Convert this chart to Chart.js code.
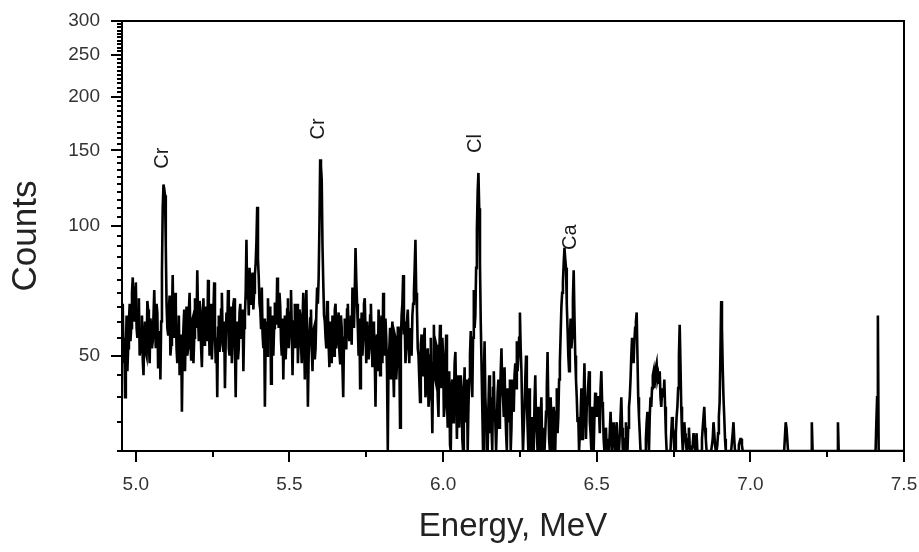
<!DOCTYPE html>
<html>
<head>
<meta charset="utf-8">
<script src="https://cdn.jsdelivr.net/npm/chart.js@4/dist/chart.umd.min.js"></script>
<style>
  html, body { margin: 0; padding: 0; background: #fff; }
  #wrap { width: 919px; height: 552px; position: relative; }
</style>
</head>
<body>
<div id="wrap"><canvas id="spectrum"></canvas></div>
<script>
// channel grid of the spectrum (MeV)
const energyStart = 4.955;
const energyStep = 0.0025;

// counts per channel, one row = 0.1 MeV (40 channels)
const counts = [
  58, 66, 48, 55, 40, 52, 62, 46, 52, 60, 66, 54, 58, 70, 76, 63, 60, 72, 74, 58, 55, 64, 68, 50, 52, 58, 62, 49, 45, 56, 60, 51, 50, 67, 64, 53, 48, 61, 58, 52,
  54, 62, 71, 58, 52, 66, 63, 47, 50, 57, 44, 60, 78, 110, 125, 122, 118, 90, 66, 58, 56, 64, 69, 50, 53, 62, 77, 57, 55, 70, 66, 52, 48, 59, 62, 45, 50, 56, 37, 52,
  58, 64, 46, 57, 65, 50, 52, 63, 70, 56, 49, 60, 61, 48, 55, 68, 66, 58, 79, 62, 54, 67, 64, 52, 47, 59, 68, 53, 56, 65, 60, 54, 75, 61, 50, 58, 66, 49, 55, 63,
  74, 57, 48, 55, 40, 58, 62, 51, 53, 64, 70, 56, 51, 60, 42, 54, 63, 57, 71, 52, 50, 62, 65, 48, 55, 66, 68, 53, 40, 56, 60, 49, 52, 63, 66, 55, 57, 64, 46, 58,
  62, 70, 93, 68, 74, 62, 80, 72, 66, 75, 78, 64, 70, 77, 82, 92, 111, 84, 76, 66, 64, 58, 72, 56, 52, 61, 38, 54, 60, 50, 68, 59, 55, 65, 43, 57, 62, 50, 58, 66,
  66, 59, 76, 64, 58, 70, 65, 54, 50, 61, 44, 56, 62, 49, 54, 64, 68, 52, 56, 63, 71, 58, 45, 57, 60, 66, 52, 59, 66, 48, 55, 64, 62, 53, 48, 60, 70, 55, 44, 62,
  71, 55, 38, 50, 56, 61, 64, 52, 46, 57, 58, 49, 52, 63, 72, 66, 76, 100, 143, 138, 128, 90, 74, 62, 60, 55, 52, 67, 64, 53, 47, 60, 58, 48, 62, 56, 50, 64, 66, 52,
  55, 60, 63, 51, 48, 62, 58, 47, 40, 55, 61, 52, 52, 64, 66, 57, 54, 60, 62, 53, 72, 61, 58, 70, 89, 75, 66, 58, 50, 61, 42, 54, 63, 50, 55, 66, 68, 57, 48, 60,
  60, 49, 52, 62, 66, 55, 47, 60, 58, 50, 38, 54, 56, 46, 64, 58, 45, 52, 62, 48, 70, 56, 50, 61, 55, 46, 30, 50, 52, 58, 44, 55, 60, 47, 40, 56, 55, 44, 48, 58,
  58, 50, 34, 54, 62, 66, 77, 56, 60, 48, 52, 60, 64, 55, 48, 57, 58, 50, 62, 66, 70, 80, 93, 70, 64, 52, 50, 44, 39, 53, 56, 47, 45, 54, 58, 40, 42, 50, 52, 38,
  40, 50, 55, 42, 33, 48, 59, 45, 44, 53, 52, 40, 36, 50, 59, 46, 42, 55, 50, 36, 38, 48, 56, 40, 34, 45, 46, 31, 30, 42, 44, 35, 38, 48, 51, 40, 32, 43, 45, 34,
  34, 45, 42, 32, 30, 40, 47, 35, 36, 44, 30, 38, 44, 50, 57, 45, 40, 55, 71, 58, 62, 80, 98, 120, 133, 110, 82, 60, 48, 38, 30, 44, 54, 40, 36, 30, 30, 38, 45, 33,
  40, 34, 30, 42, 46, 37, 35, 30, 30, 41, 44, 34, 38, 46, 52, 42, 40, 36, 47, 38, 33, 30, 42, 35, 36, 44, 30, 34, 44, 39, 37, 45, 48, 42, 54, 46, 50, 55, 63, 52,
  46, 36, 30, 34, 38, 44, 50, 40, 34, 30, 42, 36, 30, 33, 36, 30, 30, 39, 45, 35, 33, 30, 38, 32, 30, 36, 40, 30, 34, 30, 30, 33, 37, 42, 51, 38, 32, 30, 40, 35,
  30, 34, 38, 30, 30, 37, 42, 33, 36, 44, 48, 56, 65, 70, 74, 82, 89, 84, 80, 66, 58, 50, 46, 55, 61, 52, 55, 68, 79, 62, 50, 44, 40, 35, 36, 30, 30, 36, 42, 32,
  34, 40, 48, 36, 32, 38, 40, 43, 46, 35, 33, 30, 38, 34, 30, 36, 41, 38, 36, 40, 40, 37, 33, 42, 46, 39, 38, 32, 30, 30, 34, 30, 30, 32, 30, 30, 37, 33, 30, 30,
  35, 32, 30, 33, 35, 30, 32, 30, 30, 36, 40, 34, 30, 30, 30, 32, 35, 30, 30, 34, 38, 40, 44, 50, 55, 52, 48, 54, 58, 60, 63, 50, 40, 36, 33, 30, 30, 30, 30, 30,
  30, 30, 32, 35, 37, 33, 30, 36, 40, 38, 42, 45, 46, 42, 44, 47, 48, 44, 45, 43, 46, 40, 38, 41, 42, 40, 44, 38, 33, 30, 30, 30, 30, 30, 30, 33, 36, 34, 33, 30,
  30, 33, 36, 38, 42, 50, 59, 48, 38, 33, 30, 32, 35, 33, 32, 30, 30, 32, 34, 31, 30, 30, 30, 31, 33, 31, 30, 30, 33, 30, 30, 30, 30, 30, 30, 32, 34, 36, 38, 34,
  32, 30, 30, 30, 30, 30, 30, 30, 30, 32, 35, 33, 31, 30, 30, 31, 33, 36, 39, 50, 67, 58, 47, 40, 36, 32, 30, 30, 30, 30, 30, 30, 30, 30, 30, 33, 35, 32, 30, 30,
  30, 30, 30, 31, 31.5, 32, 32, 31, 30, 30, 30, 30, 30, 30, 30, 30, 30, 30, 30, 30, 30, 30, 30, 30, 30, 30, 30, 30, 30, 30, 30, 30, 30, 30, 30, 30, 30, 30, 30, 30,
  30, 30, 30, 30, 30, 30, 30, 30, 30, 30, 30, 30, 30, 30, 30, 30, 30, 30, 30, 30, 30, 30, 30, 30, 35, 34, 32, 30, 30, 30, 30, 30, 30, 30, 30, 30, 30, 30, 30, 30,
  30, 30, 30, 30, 30, 30, 30, 30, 30, 30, 30, 30, 30, 30, 30, 30, 30, 30, 35, 30, 30, 30, 30, 30, 30, 30, 30, 30, 30, 30, 30, 30, 30, 30, 30, 30, 30, 30, 30, 30,
  30, 30, 30, 30, 30, 30, 30, 30, 30, 30, 30, 30, 35, 30, 30, 30, 30, 30, 30, 30, 30, 30, 30, 30, 30, 30, 30, 30, 30, 30, 30, 30, 30, 30, 30, 30, 30, 30, 30, 30,
  30, 30, 30, 30, 30, 30, 30, 30, 30, 30, 30, 30, 30, 30, 30, 30, 30, 30, 30, 30, 30, 30, 35, 40, 62, 30, 30, 30, 30, 30, 30, 30, 30, 30, 30, 30, 30, 30, 30, 30,
  30, 30, 30, 30, 30, 30, 30, 30, 30, 30, 30, 30, 30, 30, 30, 30, 30, 30, 30
];

// axes
const xMajorTicks = [5.0, 5.5, 6.0, 6.5, 7.0, 7.5];
const xMinorTicks = [5.25, 5.75, 6.25, 6.75, 7.25];
const yMajorTicks = [50, 100, 150, 200, 250, 300];
const yMinorStep = 5;

// element labels
const peakNames = ['Cr', 'Cr', 'Cl', 'Ca'];
const peakEnergies = [5.088, 5.593, 6.107, 6.414];
const peakLabelCounts = [136, 159, 148, 88];

const points = counts.map((c, i) => ({ x: +(energyStart + i * energyStep).toFixed(4), y: c }));

const FONT = '"Liberation Sans", Arial, sans-serif';

const framePlugin = {
  id: 'framePlugin',
  afterDraw(chart) {
    const { ctx, chartArea: a, scales: { x, y } } = chart;
    ctx.save();
    ctx.strokeStyle = '#000';
    ctx.lineWidth = 2;
    ctx.beginPath();
    ctx.moveTo(a.left, a.top);
    ctx.lineTo(a.right, a.top);
    ctx.lineTo(a.right, a.bottom);
    ctx.stroke();

    ctx.beginPath();
    xMajorTicks.forEach(v => {
      const px = Math.round(x.getPixelForValue(v));
      ctx.moveTo(px, a.bottom); ctx.lineTo(px, a.bottom + 11);
    });
    xMinorTicks.forEach(v => {
      const px = Math.round(x.getPixelForValue(v));
      ctx.moveTo(px, a.bottom); ctx.lineTo(px, a.bottom + 6);
    });
    for (let v = 30; v <= 300; v += yMinorStep) {
      const py = Math.round(y.getPixelForValue(v));
      const len = yMajorTicks.includes(v) ? 11 : 5;
      ctx.moveTo(a.left, py); ctx.lineTo(a.left - len, py);
    }
    ctx.stroke();

    ctx.fillStyle = '#1a1a1a';
    ctx.font = '20px ' + FONT;
    ctx.textAlign = 'left';
    ctx.textBaseline = 'middle';
    peakNames.forEach((name, i) => {
      ctx.save();
      ctx.translate(x.getPixelForValue(peakEnergies[i]), y.getPixelForValue(peakLabelCounts[i]));
      ctx.rotate(-Math.PI / 2);
      ctx.fillText(name, 0, 0);
      ctx.restore();
    });
    ctx.restore();
  }
};

new Chart(document.getElementById('spectrum'), {
  type: 'line',
  data: {
    datasets: [{
      data: points,
      borderColor: '#000',
      borderWidth: 2.6,
      pointRadius: 0,
      tension: 0,
      fill: false
    }]
  },
  options: {
    animation: false,
    responsive: true,
    maintainAspectRatio: false,
    layout: { padding: { left: 0, top: 21, right: 15, bottom: 0 } },
    plugins: {
      legend: { display: false },
      tooltip: { enabled: false }
    },
    scales: {
      x: {
        type: 'linear',
        min: 4.955,
        max: 7.5,
        afterBuildTicks: scale => { scale.ticks = xMajorTicks.map(v => ({ value: v })); },
        afterFit: scale => { scale.height = 101; scale.paddingLeft = 0; scale.paddingRight = 0; },
        grid: { display: false, drawTicks: false },
        border: { display: true, color: '#000', width: 2 },
        ticks: {
          padding: 22,
          color: '#333',
          font: { family: FONT, size: 19 },
          maxRotation: 0,
          autoSkip: false,
          callback: v => v.toFixed(1)
        },
        title: {
          display: true,
          text: 'Energy, MeV',
          color: '#222',
          font: { family: FONT, size: 33 },
          padding: { top: 0, bottom: 5 }
        }
      },
      y: {
        type: 'logarithmic',
        min: 30,
        max: 300,
        afterBuildTicks: scale => { scale.ticks = yMajorTicks.map(v => ({ value: v })); },
        afterFit: scale => { scale.width = 122; scale.paddingTop = 0; scale.paddingBottom = 0; },
        grid: { display: false, drawTicks: false },
        border: { display: true, color: '#000', width: 2 },
        ticks: {
          padding: 22,
          color: '#333',
          font: { family: FONT, size: 19 },
          autoSkip: false,
          callback: v => String(v)
        },
        title: {
          display: true,
          text: 'Counts',
          color: '#222',
          font: { family: FONT, size: 35 },
          padding: { top: 5, bottom: 0 }
        }
      }
    }
  },
  plugins: [framePlugin]
});
</script>
</body>
</html>
